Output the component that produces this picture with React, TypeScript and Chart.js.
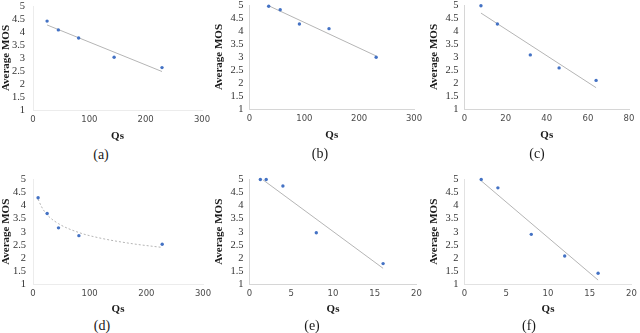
import React, { useEffect, useRef } from "react";
import { Chart, registerables } from "chart.js";

Chart.register(...registerables);

// ---- data ----
const qsA = [25, 45, 81, 144, 229];
const mosA = [4.42, 4.08, 3.77, 3.03, 2.63];
const trendQsA = [25, 229];
const trendMosA = [4.27, 2.48];

const qsB = [35, 56, 91, 145, 231];
const mosB = [4.95, 4.82, 4.27, 4.09, 2.99];
const trendQsB = [35, 231];
const trendMosB = [4.97, 3.04];

const qsC = [8, 16, 32, 46, 64];
const mosC = [4.97, 4.27, 3.08, 2.58, 2.1];
const trendQsC = [8, 64];
const trendMosC = [4.69, 1.82];

const qsD = [9, 25, 45, 81, 228];
const mosD = [4.3, 3.7, 3.15, 2.85, 2.52];
const trendQsD = [9, 15, 25, 45, 81, 118, 176, 228];
const trendMosD = [4.25, 3.96, 3.65, 3.31, 2.97, 2.76, 2.54, 2.4];

const qsE = [1.3, 2, 4, 8, 16];
const mosE = [5, 5, 4.75, 2.96, 1.78];
const trendQsE = [1.6, 16];
const trendMosE = [4.99, 1.6];

const qsF = [2, 4, 8, 12, 16];
const mosF = [5, 4.68, 2.9, 2.07, 1.41];
const trendQsF = [2, 16];
const trendMosF = [4.95, 1.15];

const xMaxes = [300, 300, 80, 300, 20, 20];
const xSteps = [100, 100, 20, 100, 5, 5];
const captions = ["(a)", "(b)", "(c)", "(d)", "(e)", "(f)"];
const yTitle = "Average MOS";
const xTitle = "Qs";

const SERIF = "'Liberation Serif', 'Times New Roman', serif";
const SANS = "'DejaVu Sans', Verdana, sans-serif";

Chart.defaults.font.family = SERIF;

type Box = { x: number; y: number; w: number; h: number };
type Plot = { l: number; r: number; t: number; b: number };
type PanelDef = {
  box: Box;
  plot: Plot;
  xMax: number;
  xStep: number;
  qs: number[];
  mos: number[];
  tQs: number[];
  tMos: number[];
  curve?: boolean;
  axisColor: string;
  yPad: number;
  caption: string;
  cap: { x: number; y: number };
};

const panels: PanelDef[] = [
  {
    box: { x: 0, y: 0, w: 214, h: 143 },
    plot: { l: 33, r: 202, t: 6, b: 110 },
    xMax: xMaxes[0], xStep: xSteps[0], qs: qsA, mos: mosA, tQs: trendQsA, tMos: trendMosA,
    axisColor: "#ececec", yPad: 8, caption: captions[0], cap: { x: 101, y: 155 },
  },
  {
    box: { x: 213, y: 0, w: 213, h: 142 },
    plot: { l: 249.5, r: 414, t: 5, b: 109 },
    xMax: xMaxes[1], xStep: xSteps[1], qs: qsB, mos: mosB, tQs: trendQsB, tMos: trendMosB,
    axisColor: "#d6d6d6", yPad: 6, caption: captions[1], cap: { x: 320, y: 154 },
  },
  {
    box: { x: 428, y: 0, w: 212, h: 142 },
    plot: { l: 464.5, r: 629, t: 5, b: 109 },
    xMax: xMaxes[2], xStep: xSteps[2], qs: qsC, mos: mosC, tQs: trendQsC, tMos: trendMosC,
    axisColor: "#d6d6d6", yPad: 6, caption: captions[2], cap: { x: 537, y: 154 },
  },
  {
    box: { x: 0, y: 165, w: 215, h: 151 },
    plot: { l: 33, r: 203, t: 179.5, b: 284 },
    xMax: xMaxes[3], xStep: xSteps[3], qs: qsD, mos: mosD, tQs: trendQsD, tMos: trendMosD,
    curve: true, axisColor: "#ececec", yPad: 7, caption: captions[3], cap: { x: 102, y: 326 },
  },
  {
    box: { x: 213, y: 165, w: 215, h: 151 },
    plot: { l: 249.5, r: 416.5, t: 179.5, b: 284 },
    xMax: xMaxes[4], xStep: xSteps[4], qs: qsE, mos: mosE, tQs: trendQsE, tMos: trendMosE,
    axisColor: "#d6d6d6", yPad: 6, caption: captions[4], cap: { x: 312, y: 326 },
  },
  {
    box: { x: 428, y: 165, w: 212, h: 151 },
    plot: { l: 464.5, r: 631.5, t: 179.5, b: 284 },
    xMax: xMaxes[5], xStep: xSteps[5], qs: qsF, mos: mosF, tQs: trendQsF, tMos: trendMosF,
    axisColor: "#e2e2e2", yPad: 6, caption: captions[5], cap: { x: 529, y: 326 },
  },
];

function buildChart(canvas: HTMLCanvasElement, p: PanelDef) {
  const W = p.plot.l - p.box.x;
  const H = p.box.y + p.box.h - p.plot.b;
  return new Chart(canvas, {
    type: "scatter",
    data: {
      datasets: [
        {
          data: p.qs.map((x, i) => ({ x, y: p.mos[i] })),
          backgroundColor: "#4472C4",
          borderColor: "#4472C4",
          pointRadius: 1.7,
          borderWidth: 0,
          clip: false,
          order: 0,
        } as any,
        {
          data: p.tQs.map((x, i) => ({ x, y: p.tMos[i] })),
          showLine: true,
          pointRadius: 0,
          borderColor: "#b5b5b5",
          borderWidth: 1,
          borderDash: p.curve ? [2, 2] : [],
          cubicInterpolationMode: p.curve ? "monotone" : "default",
          order: 1,
        } as any,
      ],
    },
    options: {
      responsive: false,
      animation: false,
      devicePixelRatio: 1,
      events: [],
      layout: {
        padding: {
          top: p.plot.t - p.box.y,
          right: p.box.x + p.box.w - p.plot.r,
          left: 0,
          bottom: 0,
        },
      },
      plugins: { legend: { display: false }, tooltip: { enabled: false } },
      scales: {
        x: {
          type: "linear",
          position: "bottom",
          min: 0,
          max: p.xMax,
          ticks: {
            stepSize: p.xStep,
            padding: 5,
            color: "#4a4a4a",
            maxRotation: 0,
            autoSkip: false,
            font: { family: SANS, size: 8.5 },
            callback: (v: any) => String(v),
          },
          grid: { display: true, color: "transparent", drawTicks: false },
          border: { display: true, color: p.axisColor, width: 1 },
          title: {
            display: true,
            text: xTitle,
            color: "#1a1a1a",
            font: { family: SERIF, size: 11, weight: "bold" },
            padding: { top: 0, bottom: 0 },
          },
          afterFit: (s: any) => {
            s.height = H;
            s.paddingLeft = 0;
            s.paddingRight = 0;
          },
        },
        y: {
          type: "linear",
          position: "left",
          min: 1,
          max: 5,
          ticks: {
            stepSize: 0.5,
            padding: p.yPad,
            color: "#333333",
            autoSkip: false,
            font: { family: SERIF, size: 10.5, lineHeight: 1 },
            callback: (v: any) => String(Math.round(Number(v) * 10) / 10),
          },
          grid: { display: true, color: "transparent", drawTicks: false },
          border: { display: true, color: p.axisColor, width: 1 },
          title: {
            display: true,
            text: yTitle,
            color: "#1a1a1a",
            font: { family: SERIF, size: 11, weight: "bold" },
            padding: { top: 0, bottom: 0 },
          },
          afterFit: (s: any) => {
            s.width = W;
            s.paddingTop = 0;
            s.paddingBottom = 0;
          },
        },
      },
    } as any,
  });
}

function ChartPanel({ p }: { p: PanelDef }) {
  const ref = useRef<HTMLCanvasElement>(null);
  useEffect(() => {
    if (!ref.current) return;
    let chart: Chart | null = buildChart(ref.current, p);
    let cancelled = false;
    const fonts: any = (document as any).fonts;
    if (fonts && fonts.load) {
      Promise.all([
        fonts.load("bold 11px 'Liberation Serif'"),
        fonts.load("10px 'Liberation Serif'"),
        fonts.load("9px 'DejaVu Sans'"),
      ])
        .catch(() => undefined)
        .then(() => {
          if (cancelled || !ref.current) return;
          if (chart) chart.destroy();
          chart = buildChart(ref.current, p);
        });
    }
    return () => {
      cancelled = true;
      if (chart) chart.destroy();
      chart = null;
    };
  }, [p]);
  return (
    <canvas
      ref={ref}
      width={p.box.w}
      height={p.box.h}
      style={{
        position: "absolute",
        left: p.box.x,
        top: p.box.y,
        width: p.box.w,
        height: p.box.h,
      }}
    />
  );
}

export default function App() {
  return (
    <div
      style={{
        position: "absolute",
        left: 0,
        top: 0,
        width: 640,
        height: 333,
        background: "#ffffff",
        overflow: "hidden",
      }}
    >
      {panels.map((p, i) => (
        <ChartPanel key={i} p={p} />
      ))}
      {panels.map((p, i) => (
        <div
          key={"c" + i}
          style={{
            position: "absolute",
            left: p.cap.x,
            top: p.cap.y,
            transform: "translate(-50%, -50%)",
            fontFamily: SERIF,
            fontSize: 14,
            color: "#1a1a1a",
            lineHeight: 1,
            whiteSpace: "nowrap",
          }}
        >
          {p.caption}
        </div>
      ))}
    </div>
  );
}
